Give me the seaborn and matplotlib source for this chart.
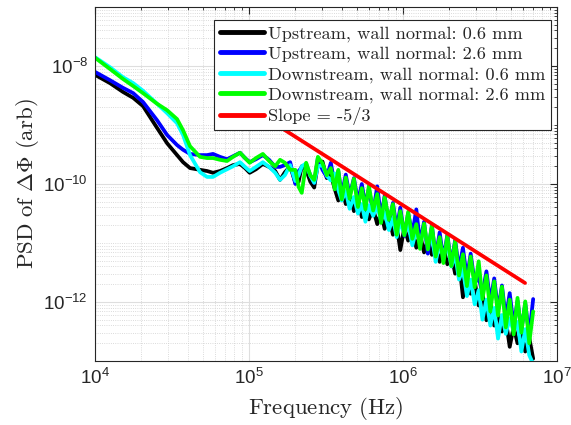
import numpy as np
import pandas as pd
import matplotlib
matplotlib.use('Agg')
import matplotlib.pyplot as plt
import seaborn as sns
from matplotlib.ticker import LogLocator, NullFormatter

# frequency axis (Hz), shared by all four spectra
freq_hz = [1.0e4, 1.25e4, 1.52e4, 1.77e4, 2.05e4, 2.53e4, 2.94e4, 3.41e4, 3.73e4, 4.14e4,
           4.81e4, 5.34e4, 5.84e4, 6.48e4, 7.2e4, 7.87e4, 8.74e4, 9.42e4, 1.01e5, 1.11e5,
           1.23e5, 1.35e5, 1.48e5, 1.59e5, 1.71e5, 1.85e5,
           2.0e5, 2.1e5, 2.2e5, 2.35e5, 2.5e5, 2.65e5, 2.8e5, 3.0e5, 3.2e5, 3.4e5,
           3.6e5, 3.8e5, 4.0e5, 4.25e5, 4.5e5, 4.8e5, 5.1e5, 5.4e5, 5.7e5, 6.0e5,
           6.4e5, 6.8e5, 7.2e5, 7.6e5, 8.1e5, 8.6e5, 9.1e5, 9.6e5, 1.02e6, 1.08e6,
           1.15e6, 1.22e6, 1.29e6, 1.37e6, 1.45e6, 1.54e6, 1.63e6, 1.73e6, 1.83e6, 1.94e6,
           2.06e6, 2.18e6, 2.31e6, 2.45e6, 2.6e6, 2.75e6, 2.92e6, 3.1e6, 3.28e6, 3.48e6,
           3.69e6, 3.91e6, 4.14e6, 4.39e6, 4.65e6, 4.93e6, 5.23e6, 5.54e6, 5.87e6, 6.22e6,
           6.6e6, 7.0e6]

# PSD in dB (10*log10)
up_06_db = [-81.5, -82.9, -84.4, -85.4, -86.8, -90.5, -93.1, -95.1, -96.3, -97.3,
            -97.6, -97.8, -98.1, -97.8, -97.3, -96.8, -96.6, -97.3, -98.1, -97.5,
            -96.6, -97.1, -97.8, -99.3, -98.0, -97.0,
            -99.8, -99.6, -97.0, -97.6, -99.6, -100.6, -96.6, -96.2, -99.0, -98.4,
            -100.8, -102.8, -100.6, -103.4, -101.6, -104.6, -102.4, -105.6, -103.6, -106.0,
            -104.2, -106.8, -104.8, -107.6, -105.4, -108.6, -107.0, -111.2, -107.4, -109.6,
            -107.8, -110.8, -108.6, -111.6, -109.4, -112.0, -110.6, -113.2, -110.8, -113.6,
            -112.0, -115.2, -113.0, -119.2, -115.6, -118.6, -116.4, -120.6, -118.4, -123.1,
            -120.2, -124.0, -121.8, -125.0, -123.0, -127.6, -124.2, -127.0, -125.2, -128.4,
            -126.0, -129.6]
up_26_db = [-81.0, -82.4, -83.7, -84.6, -86.1, -89.2, -91.7, -93.4, -94.2, -94.9,
            -95.1, -95.1, -94.9, -95.4, -95.8, -95.3, -94.7, -95.6, -96.3, -95.8,
            -95.1, -95.9, -97.1, -97.1, -96.8, -96.3,
            -100.0, -97.8, -97.2, -96.8, -98.5, -99.8, -95.6, -97.6, -98.8, -96.4,
            -100.2, -97.8, -101.8, -98.4, -102.0, -99.0, -103.0, -100.0, -103.6, -100.8,
            -104.8, -100.4, -105.6, -102.0, -106.8, -103.2, -107.6, -104.0, -108.8, -105.0,
            -108.4, -104.3, -110.0, -106.4, -111.8, -107.0, -112.4, -108.2, -112.8, -108.6,
            -113.6, -109.5, -114.4, -110.8, -116.0, -111.8, -116.8, -115.8, -118.6, -114.8,
            -120.0, -116.0, -121.4, -117.2, -122.8, -118.5, -124.0, -119.8, -124.8, -120.2,
            -125.6, -119.5]
down_06_db = [-78.5, -80.2, -81.9, -82.9, -84.2, -86.4, -88.0, -89.7, -91.7, -95.1,
              -98.0, -98.8, -98.8, -98.1, -97.5, -97.0, -96.3, -97.1, -97.8, -97.1,
              -96.3, -97.1, -98.1, -99.3, -98.5, -96.8,
              -99.5, -98.5, -97.0, -96.5, -98.6, -99.8, -97.0, -96.8, -98.6, -99.4,
              -98.2, -101.0, -102.8, -101.2, -104.2, -102.2, -105.0, -103.4, -106.4, -103.6,
              -105.4, -103.8, -106.2, -104.8, -107.8, -105.8, -109.0, -106.4, -108.4, -106.8,
              -110.4, -107.8, -110.0, -107.6, -110.2, -108.8, -113.2, -110.0, -112.2, -109.8,
              -114.0, -112.0, -116.2, -114.4, -119.0, -116.2, -120.4, -118.0, -123.0, -119.6,
              -124.0, -121.0, -126.2, -122.2, -125.4, -122.8, -125.0, -123.4, -128.4, -124.6,
              -129.0, -130.5]
down_26_db = [-78.6, -80.5, -82.2, -83.4, -84.6, -86.4, -87.5, -89.0, -90.9, -93.6,
              -95.4, -95.6, -95.6, -95.9, -96.1, -95.4, -94.7, -95.6, -96.4, -95.6,
              -94.9, -96.1, -97.0, -95.9, -96.4, -97.6,
              -97.6, -100.5, -101.5, -96.4, -98.5, -99.3, -95.4, -96.5, -98.5, -97.3,
              -100.9, -97.6, -102.6, -98.9, -102.5, -99.1, -103.9, -100.7, -104.3, -100.3,
              -104.5, -101.7, -106.6, -102.2, -106.1, -103.4, -108.6, -104.6, -108.7, -104.7,
              -109.3, -106.8, -111.0, -106.7, -111.1, -107.1, -112.3, -109.0, -113.4, -108.8,
              -113.9, -109.7, -115.5, -111.9, -117.3, -112.3, -117.5, -113.1, -119.5, -115.5,
              -121.6, -116.5, -122.3, -117.4, -124.3, -119.6, -125.5, -119.3, -125.2, -119.9,
              -127.0, -121.6]

# -5/3 reference line end points
slope_freq = [1.0e5, 6.2e6]
slope_psd = [2.0e-9, 2.1e-12]

labels = ['Upstream, wall normal: 0.6 mm', 'Upstream, wall normal: 2.6 mm',
          'Downstream, wall normal: 0.6 mm', 'Downstream, wall normal: 2.6 mm']
slope_label = 'Slope = -5/3'
colors = ['#000000', '#0000ff', '#00ffff', '#00ff00']
x_ticks = [1e4, 1e5, 1e6, 1e7]
y_ticks = [1e-12, 1e-10, 1e-8]

sns.set_style('white')
plt.rcParams['font.family'] = ['Liberation Sans', 'DejaVu Sans']
plt.rcParams['mathtext.fontset'] = 'custom'
plt.rcParams['mathtext.rm'] = 'Liberation Sans'

frames = []
for name, vals in zip(labels, [up_06_db, up_26_db, down_06_db, down_26_db]):
    frames.append(pd.DataFrame({'freq': freq_hz,
                                'psd': 10 ** (np.array(vals) / 10.0),
                                'series': name}))
df = pd.concat(frames, ignore_index=True)

fig, ax = plt.subplots(figsize=(5.71, 4.25), dpi=100)
fig.subplots_adjust(left=0.1664, right=0.9755, bottom=0.1506, top=0.9835)

sns.lineplot(data=df, x='freq', y='psd', hue='series', hue_order=labels,
             palette=dict(zip(labels, colors)), linewidth=2.7, estimator=None,
             sort=False, ax=ax)
sns.lineplot(x=slope_freq, y=slope_psd, color='#ff0000', linewidth=2.7,
             label=slope_label, ax=ax)

ax.set_xscale('log')
ax.set_yscale('log')
ax.set_xticks(x_ticks)
ax.set_yticks(y_ticks)
ax.set_xlim(1e4, 1e7)
ax.set_ylim(1e-13, 1e-7)

ax.xaxis.set_minor_locator(LogLocator(base=10, subs=np.arange(2, 10), numticks=40))
ax.yaxis.set_minor_locator(LogLocator(base=10, subs=np.arange(1, 10), numticks=60))
ax.xaxis.set_minor_formatter(NullFormatter())
ax.yaxis.set_minor_formatter(NullFormatter())

ax.set_axisbelow(True)
ax.grid(which='major', color='#dedede', linewidth=0.8, linestyle='-')
ax.grid(which='minor', color='#cfcfcf', linewidth=0.6, linestyle=':')
for s in ax.spines.values():
    s.set_color('#262626')
    s.set_linewidth(0.8)
ax.tick_params(which='both', direction='in', top=True, right=True, color='#262626')
ax.tick_params(which='major', length=5, labelsize=13.5, pad=5)
ax.tick_params(which='minor', length=2.5, labelbottom=False, labelleft=False)

ax.set_xlabel(r'$\mathrm{Frequency\ (Hz)}$', math_fontfamily='cm', size=16.5, labelpad=5)
ax.set_ylabel(r'$\mathrm{PSD\ of\ }\Delta\Phi\mathrm{\ (arb)}$', math_fontfamily='cm',
              size=16.5, labelpad=2)

leg = ax.legend(loc='upper right', bbox_to_anchor=(0.987, 0.963), borderaxespad=0,
                prop={'family': 'cmr10', 'size': 13.2}, handlelength=2.4,
                handletextpad=0.25, labelspacing=0.22, borderpad=0.3,
                fancybox=False, framealpha=1)
leg.get_frame().set_edgecolor('#262626')
leg.get_frame().set_linewidth(0.8)
for h in leg.get_lines():
    h.set_linewidth(3.5)

fig.savefig('out.png', dpi=100)
